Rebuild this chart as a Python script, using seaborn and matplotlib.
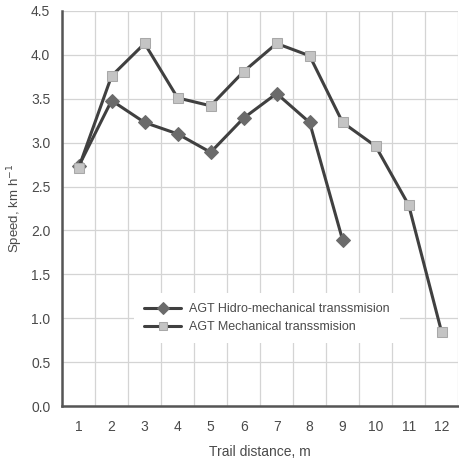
import numpy as np
import pandas as pd
import matplotlib.pyplot as plt
import seaborn as sns

# values
distance = list(range(1, 13))
hydro_speed = [2.73, 3.48, 3.23, 3.10, 2.89, 3.28, 3.56, 3.23, 1.89]
mech_speed = [2.71, 3.76, 4.13, 3.51, 3.42, 3.81, 4.13, 3.99, 3.23, 2.96, 2.29, 0.84]
hydro_label = "AGT Hidro-mechanical transsmision"
mech_label = "AGT Mechanical transsmision"

sns.set_style("white")
plt.rcParams['font.family'] = ['Liberation Sans', 'DejaVu Sans']
txt = "#4a4a4a"

fig = plt.figure(figsize=(4.6, 4.62), dpi=100)
ax = fig.add_axes([0.135, 0.1212, 0.861, 0.855])

df_h = pd.DataFrame({"x": distance[:len(hydro_speed)], "y": hydro_speed})
df_m = pd.DataFrame({"x": distance, "y": mech_speed})

sns.lineplot(data=df_h, x="x", y="y", ax=ax, color="#404040", lw=2.2,
             marker="D", markersize=7, markerfacecolor="#6b6b6b",
             markeredgecolor="#6b6b6b", label=hydro_label, zorder=3)
sns.lineplot(data=df_m, x="x", y="y", ax=ax, color="#404040", lw=2.2,
             marker="s", markersize=7.5, markerfacecolor="#c4c4c4",
             markeredgecolor="#a8a8a8", label=mech_label, zorder=4)

ax.set_xlim(0.5, 12.5)
ax.set_ylim(0, 4.5)
ax.set_xticks(distance)
ax.set_xticks(np.arange(0.5, 13, 1), minor=True)
ax.set_yticks(np.arange(0, 4.51, 0.5))
ax.set_yticklabels([f"{v:.1f}" for v in np.arange(0, 4.51, 0.5)])
ax.grid(False)
ax.grid(True, which="minor", axis="x", color="#d4d4d4", lw=0.9)
ax.grid(True, which="major", axis="y", color="#d4d4d4", lw=0.9)
ax.set_axisbelow(True)

ax.tick_params(axis="x", which="major", length=0, pad=10, labelsize=10, labelcolor=txt)
ax.tick_params(axis="x", which="minor", length=5, width=1.5, color="#555555", direction="out")
ax.tick_params(axis="y", length=5, width=1.5, color="#555555", direction="out",
               labelsize=10, labelcolor=txt)

for s in ["top", "right"]:
    ax.spines[s].set_visible(False)
for s in ["left", "bottom"]:
    ax.spines[s].set_color("#555555")
    ax.spines[s].set_linewidth(1.8)

ax.set_xlabel("Trail distance, m", fontsize=10, color=txt, labelpad=8)
ax.set_ylabel("Speed, km h$^{-1}$", fontsize=9.5, color=txt, labelpad=4)

leg = ax.legend(loc="center left", bbox_to_anchor=(0.167, 0.111, 0.666, 0.223),
                frameon=True, fancybox=False, fontsize=9, handlelength=2.9,
                handletextpad=0.7, labelspacing=0.5, borderpad=0.8)
leg.get_frame().set_facecolor("white")
leg.get_frame().set_edgecolor("none")
leg.get_frame().set_alpha(1)
for t in leg.get_texts():
    t.set_color(txt)
for h in leg.legend_handles:
    h.set_markersize(6)

fig.savefig("out.png", dpi=100)
